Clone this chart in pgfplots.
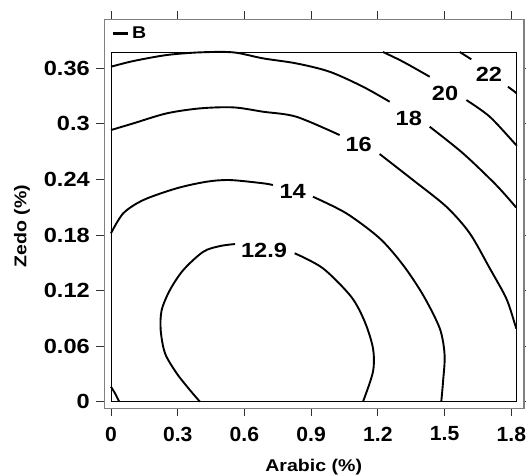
\documentclass[border=0pt]{standalone}
\usepackage{fontspec}
\setmainfont{Liberation Sans}[FakeStretch=1.15]
\newfontfamily\xtickfont{Liberation Sans}[FakeStretch=1.03]
\usepackage{pgfplots}
\pgfplotsset{compat=1.18}
\begin{document}
\begin{tikzpicture}
\begin{axis}[
  at={(0,0)}, anchor=south west,
  scale only axis, width=419.7pt, height=389pt,
  xmin=-0.030, xmax=1.857, ymin=-0.0071, ymax=0.413,
  xtick={0,0.3,0.6,0.9,1.2,1.5,1.8},
  xticklabels={0,0.3,0.6,0.9,1.2,1.5,1.8},
  ytick={0,0.06,0.12,0.18,0.24,0.3,0.36},
  yticklabels={0,0.06,0.12,0.18,0.24,0.3,0.36},
  tick align=outside, major tick length=8pt,
  tick style={black!80, line width=0.9pt},
  axis line style={draw=gray, line width=1.6pt},
  yticklabel style={font=\fontsize{20.5}{21}\selectfont\bfseries, xshift=-3pt},
  xticklabel style={font=\xtickfont\fontsize{20.5}{21}\selectfont\bfseries, yshift=-7pt},
  /pgf/number format/assume math mode=true,
  legend style={at={(axis cs:0,0.398)}, anchor=west, draw=none, fill=none,
    inner xsep=0pt, inner ysep=0pt, font=\fontsize{17}{17}\selectfont\bfseries},
  legend image code/.code={\draw[line width=3.2pt, black] (0pt,0pt) -- (15.7pt,0pt);},
  clip=true,
]
\draw[black, line width=0.9pt] (axis cs:0,0) rectangle (axis cs:1.822,0.3777);

% 18 contour (left part)
\addplot[black, line width=1.9pt, smooth, tension=0.5] coordinates {
(0,0.3618) (0.1003,0.3679) (0.250,0.3744) (0.400,0.3773) (0.550,0.3773)
(0.684,0.3708) (0.833,0.3654) (0.983,0.3564) (1.133,0.3402) (1.253,0.3240)};
\addlegendentry{B}
\addplot[black, line width=1.9pt, smooth, tension=0.5, forget plot] coordinates {
(1.433,0.2970) (1.583,0.2682) (1.732,0.2340) (1.822,0.2097)};

% 16 contour
\addplot[black, line width=1.9pt, smooth, tension=0.5, forget plot] coordinates {
(0,0.2934) (0.1003,0.3006) (0.250,0.3114) (0.400,0.3168) (0.550,0.3179)
(0.684,0.3132) (0.833,0.3078) (1.028,0.2880)};
\addplot[black, line width=1.9pt, smooth, tension=0.5, forget plot] coordinates {
(1.208,0.2675) (1.358,0.2394) (1.508,0.2106) (1.613,0.1819) (1.703,0.1441)
(1.777,0.1117) (1.815,0.0847) (1.822,0.0790)};

% 14 contour
\addplot[black, line width=1.9pt, smooth, tension=0.5, forget plot] coordinates {
(0,0.1819) (0.0553,0.2035) (0.1452,0.2178) (0.2954,0.2305) (0.430,0.2376)
(0.535,0.2394) (0.684,0.2359) (0.728,0.2340)};
\addplot[black, line width=1.9pt, smooth, tension=0.5, forget plot] coordinates {
(0.908,0.2214) (1.058,0.2035) (1.208,0.1765) (1.313,0.1477) (1.403,0.1153)
(1.478,0.0793) (1.500,0.0504) (1.493,0.0216) (1.485,0)};

% 12.9 contour
\addplot[black, line width=1.9pt, smooth, tension=0.5, forget plot] coordinates {
(0.5576,0.1703) (0.490,0.1681) (0.415,0.1620) (0.325,0.1422) (0.265,0.1206)
(0.228,0.0990) (0.2235,0.0774) (0.243,0.0523) (0.2954,0.0307) (0.355,0.0126) (0.400,0)};
\addplot[black, line width=1.9pt, smooth, tension=0.5, forget plot] coordinates {
(0.826,0.1603) (0.953,0.1441) (1.080,0.1134) (1.141,0.0864) (1.178,0.0577)
(1.178,0.0324) (1.133,0)};

% corner contour
\addplot[black, line width=1.9pt, smooth, tension=0.5, forget plot] coordinates {
(0,0.0162) (0.018,0.0091) (0.0373,0)};

% 20 contour
\addplot[black, line width=1.9pt, smooth, tension=0.5, forget plot] coordinates {
(1.223,0.3777) (1.313,0.3672) (1.433,0.3510)};
\addplot[black, line width=1.9pt, smooth, tension=0.5, forget plot] coordinates {
(1.598,0.3258) (1.703,0.3078) (1.815,0.2790) (1.822,0.2772)};

% 22 contour
\addplot[black, line width=1.9pt, smooth, tension=0.5, forget plot] coordinates {
(1.568,0.3777) (1.620,0.3698)};
\addplot[black, line width=1.9pt, smooth, tension=0.5, forget plot] coordinates {
(1.785,0.3402) (1.815,0.3348) (1.822,0.3330)};

\begin{scope}[every node/.style={font=\fontsize{20.5}{21}\selectfont\bfseries, inner sep=0pt}]
\node at (axis cs:1.699,0.3537) {22};
\node at (axis cs:1.502,0.3330) {20};
\node at (axis cs:1.339,0.3060) {18};
\node at (axis cs:1.114,0.2780) {16};
\node at (axis cs:0.817,0.2275) {14};
\node at (axis cs:0.688,0.1635) {12.9};
\end{scope}
\end{axis}
\node[font=\fontsize{17}{17}\selectfont\bfseries] at (209.4pt,-58.7pt) {Arabic (\%)};
\node[font=\fontsize{17}{17}\selectfont\bfseries, rotate=90] at (-82.3pt,182.3pt) {Zedo (\%)};
\pgfresetboundingbox
\path[use as bounding box] (-104.3pt,-66.7pt) rectangle (421.7pt,408.3pt);
\end{tikzpicture}
\end{document}
